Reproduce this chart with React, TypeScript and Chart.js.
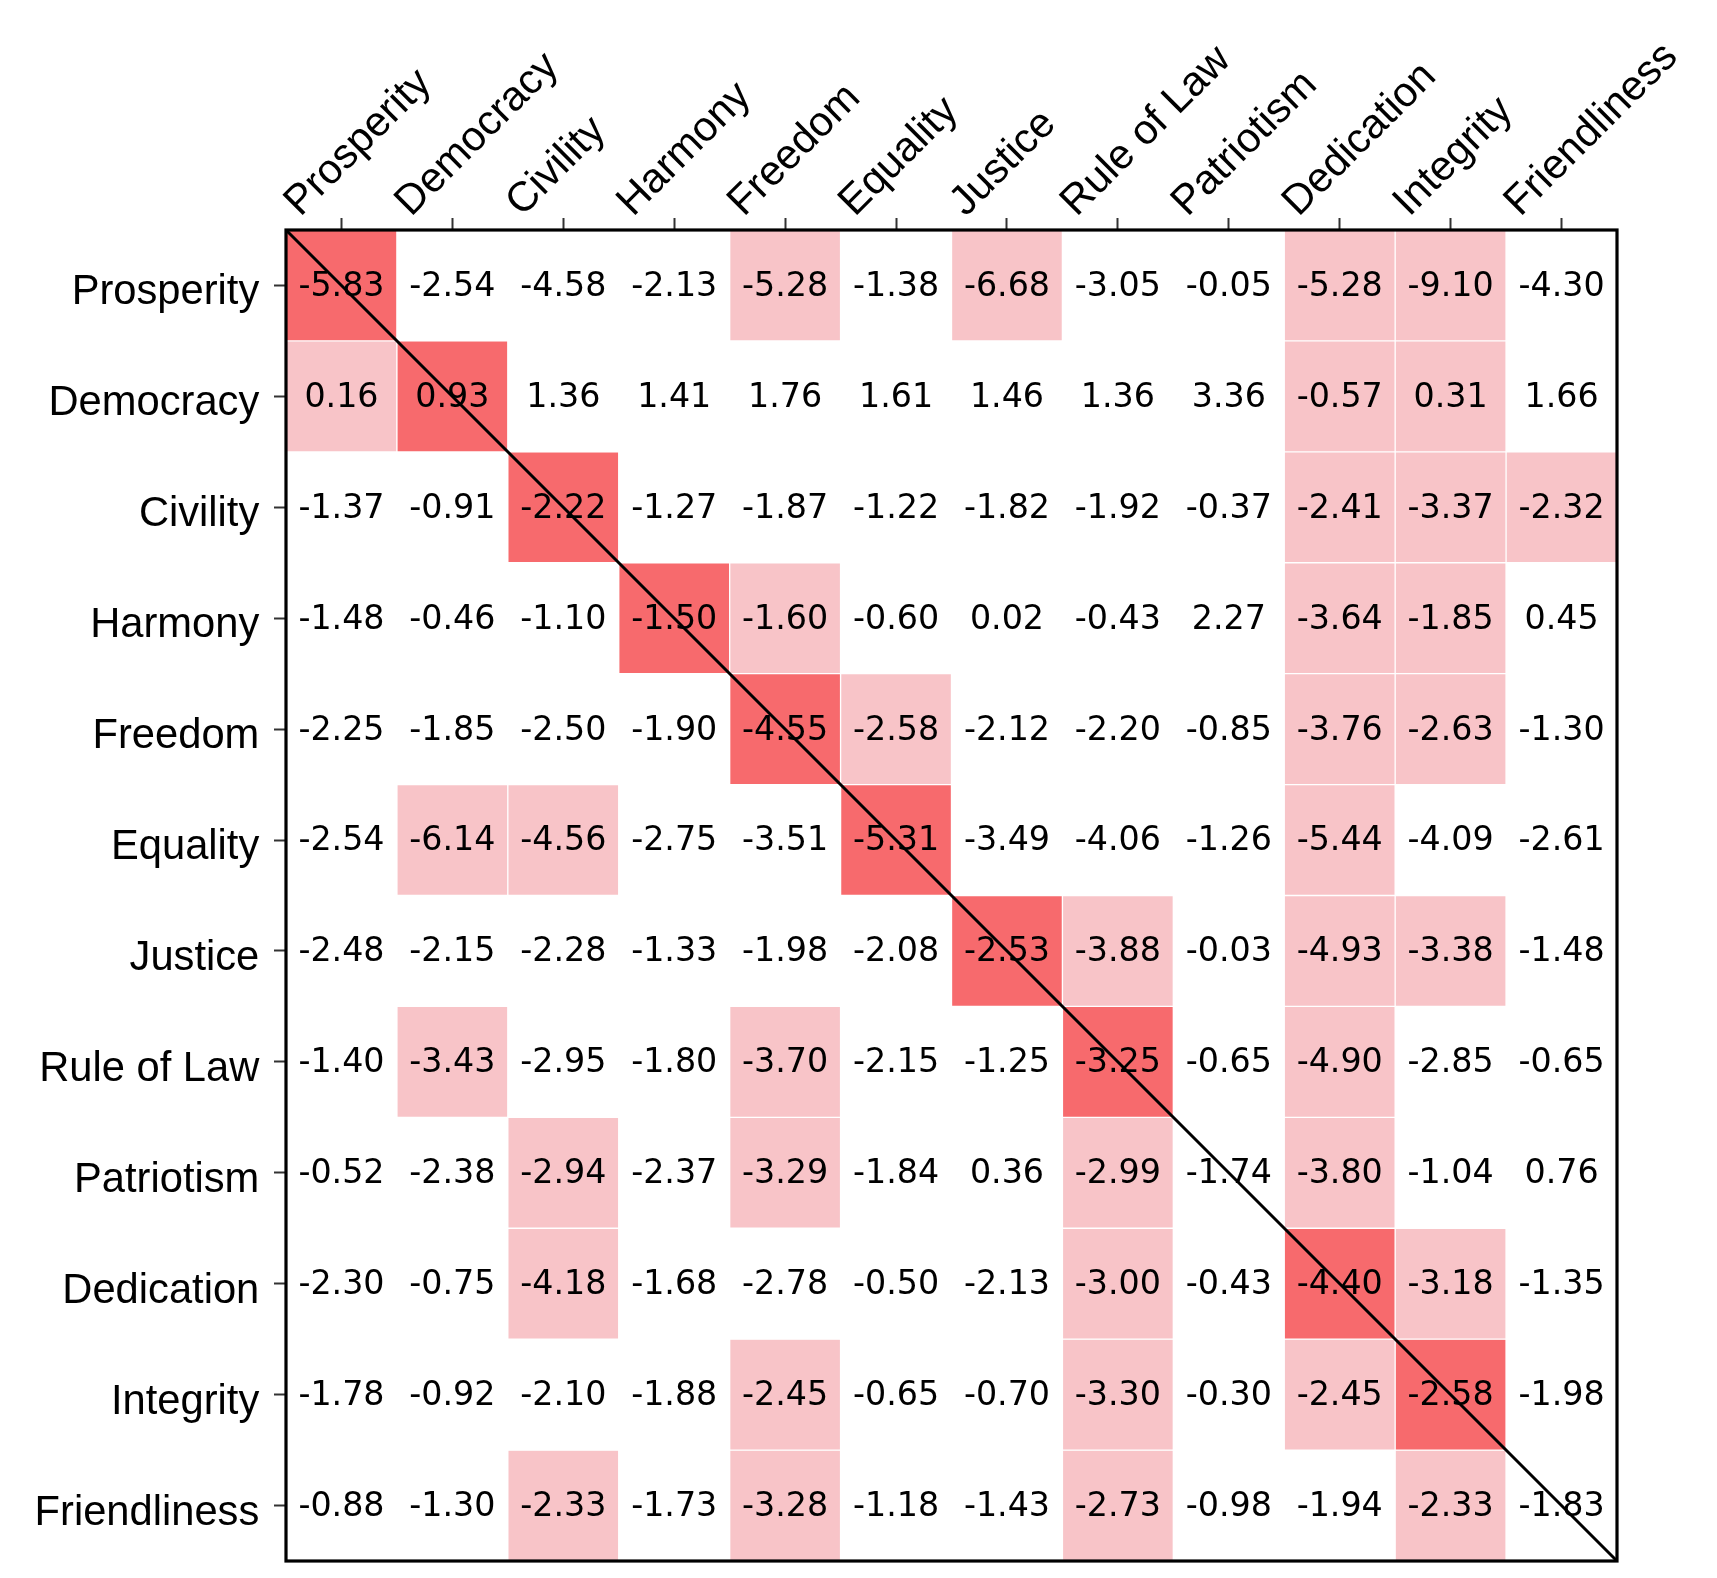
import React, { useEffect, useRef } from 'react';
import { Chart, registerables } from 'chart.js';

Chart.register(...registerables);

const columnLabels = ['Prosperity', 'Democracy', 'Civility', 'Harmony', 'Freedom', 'Equality', 'Justice', 'Rule of Law', 'Patriotism', 'Dedication', 'Integrity', 'Friendliness'];
const rowLabels = ['Prosperity', 'Democracy', 'Civility', 'Harmony', 'Freedom', 'Equality', 'Justice', 'Rule of Law', 'Patriotism', 'Dedication', 'Integrity', 'Friendliness'];

// cell values, one array per row
const prosperityRow = [-5.83, -2.54, -4.58, -2.13, -5.28, -1.38, -6.68, -3.05, -0.05, -5.28, -9.10, -4.30];
const democracyRow = [0.16, 0.93, 1.36, 1.41, 1.76, 1.61, 1.46, 1.36, 3.36, -0.57, 0.31, 1.66];
const civilityRow = [-1.37, -0.91, -2.22, -1.27, -1.87, -1.22, -1.82, -1.92, -0.37, -2.41, -3.37, -2.32];
const harmonyRow = [-1.48, -0.46, -1.10, -1.50, -1.60, -0.60, 0.02, -0.43, 2.27, -3.64, -1.85, 0.45];
const freedomRow = [-2.25, -1.85, -2.50, -1.90, -4.55, -2.58, -2.12, -2.20, -0.85, -3.76, -2.63, -1.30];
const equalityRow = [-2.54, -6.14, -4.56, -2.75, -3.51, -5.31, -3.49, -4.06, -1.26, -5.44, -4.09, -2.61];
const justiceRow = [-2.48, -2.15, -2.28, -1.33, -1.98, -2.08, -2.53, -3.88, -0.03, -4.93, -3.38, -1.48];
const ruleOfLawRow = [-1.40, -3.43, -2.95, -1.80, -3.70, -2.15, -1.25, -3.25, -0.65, -4.90, -2.85, -0.65];
const patriotismRow = [-0.52, -2.38, -2.94, -2.37, -3.29, -1.84, 0.36, -2.99, -1.74, -3.80, -1.04, 0.76];
const dedicationRow = [-2.30, -0.75, -4.18, -1.68, -2.78, -0.50, -2.13, -3.00, -0.43, -4.40, -3.18, -1.35];
const integrityRow = [-1.78, -0.92, -2.10, -1.88, -2.45, -0.65, -0.70, -3.30, -0.30, -2.45, -2.58, -1.98];
const friendlinessRow = [-0.88, -1.30, -2.33, -1.73, -3.28, -1.18, -1.43, -2.73, -0.98, -1.94, -2.33, -1.83];

const cellValues = [prosperityRow, democracyRow, civilityRow, harmonyRow, freedomRow, equalityRow, justiceRow, ruleOfLawRow, patriotismRow, dedicationRow, integrityRow, friendlinessRow];

// shading category per cell: 2 = strong, 1 = light, 0 = none
const prosperityShade = [2, 0, 0, 0, 1, 0, 1, 0, 0, 1, 1, 0];
const democracyShade = [1, 2, 0, 0, 0, 0, 0, 0, 0, 1, 1, 0];
const civilityShade = [0, 0, 2, 0, 0, 0, 0, 0, 0, 1, 1, 1];
const harmonyShade = [0, 0, 0, 2, 1, 0, 0, 0, 0, 1, 1, 0];
const freedomShade = [0, 0, 0, 0, 2, 1, 0, 0, 0, 1, 1, 0];
const equalityShade = [0, 1, 1, 0, 0, 2, 0, 0, 0, 1, 0, 0];
const justiceShade = [0, 0, 0, 0, 0, 0, 2, 1, 0, 1, 1, 0];
const ruleOfLawShade = [0, 1, 0, 0, 1, 0, 0, 2, 0, 1, 0, 0];
const patriotismShade = [0, 0, 1, 0, 1, 0, 0, 1, 0, 1, 0, 0];
const dedicationShade = [0, 0, 1, 0, 0, 0, 0, 1, 0, 2, 1, 0];
const integrityShade = [0, 0, 0, 0, 1, 0, 0, 1, 0, 1, 2, 0];
const friendlinessShade = [0, 0, 1, 0, 1, 0, 0, 1, 0, 0, 1, 0];

const cellShades = [prosperityShade, democracyShade, civilityShade, harmonyShade, freedomShade, equalityShade, justiceShade, ruleOfLawShade, patriotismShade, dedicationShade, integrityShade, friendlinessShade];

const shadeColors = ['#ffffff', '#f8c4c8', '#f76a6d'];

const LABEL_FONT = '"Liberation Sans", Arial, sans-serif';
const CELL_FONT = '"DejaVu Sans", sans-serif';

const heatmapPlugin = {
  id: 'heatmapDecor',
  afterDatasetsDraw(chart: any) {
    const { ctx, chartArea } = chart;
    ctx.save();
    // diagonal line
    ctx.strokeStyle = '#000';
    ctx.lineWidth = 3;
    ctx.beginPath();
    ctx.moveTo(chartArea.left, chartArea.top);
    ctx.lineTo(chartArea.right, chartArea.bottom);
    ctx.stroke();
    // cell texts
    ctx.fillStyle = '#000';
    ctx.font = `33.3px ${CELL_FONT}`;
    ctx.textAlign = 'center';
    ctx.textBaseline = 'middle';
    chart.data.datasets.forEach((_: any, di: number) => {
      const meta = chart.getDatasetMeta(di);
      meta.data.forEach((el: any, ci: number) => {
        const p = el.getCenterPoint();
        ctx.fillText(cellValues[di][ci].toFixed(2), p.x, p.y + 1.8);
      });
    });
    // frame
    ctx.lineWidth = 3.2;
    ctx.strokeRect(chartArea.left, chartArea.top, chartArea.right - chartArea.left, chartArea.bottom - chartArea.top);
    ctx.restore();
  },
};

export default function App() {
  const canvasRef = useRef<HTMLCanvasElement | null>(null);

  useEffect(() => {
    if (!canvasRef.current) return;
    const datasets = rowLabels.map((name, ri) => ({
      label: name,
      data: columnLabels.map(() => [ri, ri + 1]),
      backgroundColor: cellShades[ri].map((s) => shadeColors[s]),
      borderColor: '#ffffff',
      borderWidth: 1,
      borderSkipped: false,
      grouped: false,
      barPercentage: 1,
      categoryPercentage: 1,
    }));

    const chart = new Chart(canvasRef.current, {
      type: 'bar',
      data: { labels: columnLabels, datasets: datasets as any },
      options: {
        responsive: false,
        animation: false,
        events: [],
        layout: { padding: { left: 0, top: 0, right: 100, bottom: 17 } },
        plugins: { legend: { display: false }, tooltip: { enabled: false } },
        scales: {
          x: {
            type: 'category',
            position: 'top',
            offset: true,
            grid: {
              display: true,
              drawOnChartArea: false,
              drawTicks: true,
              tickLength: 12,
              tickWidth: 2,
              tickColor: '#333',
              offset: false,
            },
            border: { display: false },
            ticks: {
              autoSkip: false,
              minRotation: 45,
              maxRotation: 45,
              padding: -9,
              labelOffset: -14,
              color: '#000',
              font: { family: LABEL_FONT, size: 41.7 },
            },
            afterFit: (scale: any) => {
              scale.height = 230;
              scale.paddingLeft = 0;
              scale.paddingRight = 0;
            },
          },
          y: {
            type: 'linear',
            reverse: true,
            min: 0,
            max: rowLabels.length,
            afterBuildTicks: (scale: any) => {
              scale.ticks = rowLabels.map((_, i) => ({ value: i + 0.5 }));
            },
            grid: {
              display: true,
              drawOnChartArea: false,
              drawTicks: true,
              tickLength: 12,
              tickWidth: 2,
              tickColor: '#333',
            },
            border: { display: false },
            ticks: {
              autoSkip: false,
              padding: 14.7,
              labelOffset: 7.5,
              color: '#000',
              font: { family: LABEL_FONT, size: 41.7 },
              callback: (_v: any, idx: number) => rowLabels[idx],
            },
            afterFit: (scale: any) => {
              scale.width = 286;
              scale.paddingTop = 0;
              scale.paddingBottom = 0;
            },
          },
        },
      } as any,
      plugins: [heatmapPlugin],
    });
    return () => chart.destroy();
  }, []);

  return (
    <div style={{ position: 'absolute', left: 0, top: 0, width: 1717, height: 1578, background: '#fff' }}>
      <canvas ref={canvasRef} width={1717} height={1578} style={{ display: 'block', width: 1717, height: 1578 }} />
    </div>
  );
}
